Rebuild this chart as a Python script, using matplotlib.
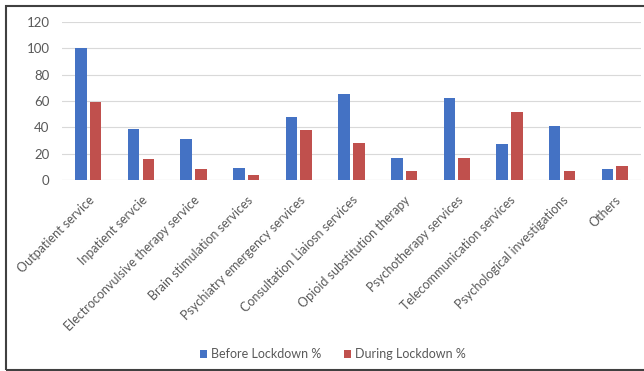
import numpy as np
import matplotlib
matplotlib.use("Agg")
from matplotlib import pyplot as plt
from matplotlib.patches import Rectangle

categories = ["Outpatient service", "Inpatient servcie", "Electroconvulsive therapy service",
              "Brain stimulation services", "Psychiatry emergency services",
              "Consultation Liaiosn services", "Opioid substitution therapy",
              "Psychotherapy services", "Telecommunication services",
              "Psychological investigations", "Others"]
before = [100, 39, 31, 9, 48, 65, 17, 62, 27, 41, 8]
during = [59, 16, 8, 3.5, 38, 28, 6.5, 17, 52, 6.5, 11]
series_names = ["Before Lockdown %", "During Lockdown %"]
yticks = [0, 20, 40, 60, 80, 100, 120]

plt.rcParams['font.family'] = ['Lato', 'DejaVu Sans']
grey = '#595959'

fig = plt.figure(figsize=(6.44, 3.71), dpi=100)
ax = fig.add_axes([62/644, 1 - 180/371, 579/644, 158/371])

x = np.arange(len(categories))
w = 0.22
ax.bar(x - 0.14, before, w, color='#4472C4', label=series_names[0], zorder=3)
ax.bar(x + 0.14, during, w, color='#C0504D', label=series_names[1], zorder=3)

ax.set_xlim(-0.5, len(categories) - 0.5)
ax.set_ylim(0, 120)
ax.set_yticks(yticks)
ax.set_yticklabels([str(t) for t in yticks], fontsize=9.5, color=grey)
ax.grid(axis='y', color='#d9d9d9', linewidth=0.8, zorder=0)
ax.tick_params(axis='both', length=0)
ax.tick_params(axis='y', pad=9)
ax.set_xticks(x)
ax.set_xticklabels(categories, rotation=45, ha='right', rotation_mode='anchor',
                   fontsize=9, color=grey)
ax.tick_params(axis='x', pad=10)
for s in ax.spines.values():
    s.set_visible(False)
ax.axhline(0, color='#d9d9d9', linewidth=0.8, zorder=1)

leg = fig.legend(loc='center', bbox_to_anchor=(333/644, 1 - 354/371), ncol=2,
                 frameon=False, fontsize=9, handlelength=0.6, handleheight=0.6,
                 handletextpad=0.3, columnspacing=1.8)
for t in leg.get_texts():
    t.set_color(grey)

# outer frame of the figure
fig.patches.append(Rectangle((6/644, 1/371), 1.1, 1 - 7/371, transform=fig.transFigure,
                             fill=False, edgecolor='#404040', linewidth=1.5))

fig.savefig("out.png", dpi=100)
